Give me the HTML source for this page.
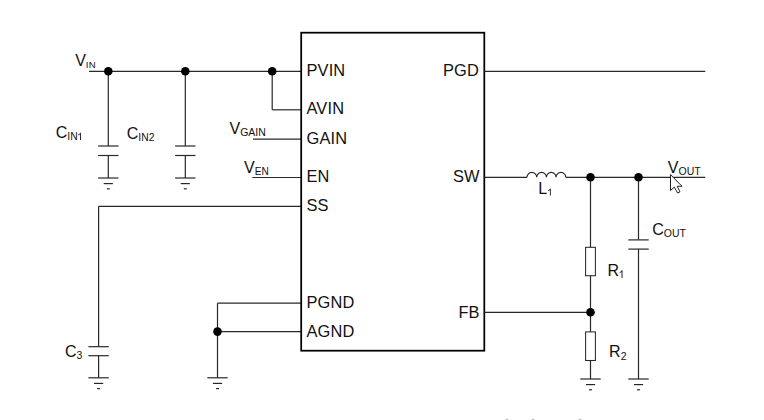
<!DOCTYPE html>
<html><head><meta charset="utf-8">
<style>
html,body{margin:0;padding:0;background:#fff;}
body{width:764px;height:420px;overflow:hidden;}
svg{display:block;}
text{font-family:"Liberation Sans",sans-serif;fill:#111;}
</style></head><body>
<svg width="764" height="420" viewBox="0 0 764 420">
<rect width="764" height="420" fill="#fff"/>
<line x1="89" y1="71.3" x2="301.5" y2="71.3" stroke="#282828" stroke-width="1.15"/>
<line x1="108.3" y1="71.3" x2="108.3" y2="146" stroke="#282828" stroke-width="1.2"/>
<line x1="98.1" y1="146" x2="118.5" y2="146" stroke="#282828" stroke-width="1.2"/>
<line x1="98.1" y1="155.5" x2="118.5" y2="155.5" stroke="#282828" stroke-width="1.2"/>
<line x1="108.3" y1="155.5" x2="108.3" y2="178" stroke="#282828" stroke-width="1.2"/>
<line x1="98.1" y1="178" x2="118.5" y2="178" stroke="#282828" stroke-width="1.2"/>
<line x1="103.7" y1="183.6" x2="112.9" y2="183.6" stroke="#282828" stroke-width="1.2"/>
<line x1="106.8" y1="188.8" x2="109.8" y2="188.8" stroke="#282828" stroke-width="1.2"/>
<line x1="185.3" y1="71.3" x2="185.3" y2="146" stroke="#282828" stroke-width="1.2"/>
<line x1="175.1" y1="146" x2="195.5" y2="146" stroke="#282828" stroke-width="1.2"/>
<line x1="175.1" y1="155.5" x2="195.5" y2="155.5" stroke="#282828" stroke-width="1.2"/>
<line x1="185.3" y1="155.5" x2="185.3" y2="178" stroke="#282828" stroke-width="1.2"/>
<line x1="175.1" y1="178" x2="195.5" y2="178" stroke="#282828" stroke-width="1.2"/>
<line x1="180.7" y1="183.6" x2="189.9" y2="183.6" stroke="#282828" stroke-width="1.2"/>
<line x1="183.8" y1="188.8" x2="186.8" y2="188.8" stroke="#282828" stroke-width="1.2"/>
<line x1="272.2" y1="71.3" x2="272.2" y2="109.8" stroke="#282828" stroke-width="1.2"/>
<line x1="272.2" y1="109.8" x2="301.5" y2="109.8" stroke="#282828" stroke-width="1.2"/>
<line x1="253" y1="139.2" x2="301.5" y2="139.2" stroke="#282828" stroke-width="1.2"/>
<line x1="252.3" y1="177.5" x2="301.5" y2="177.5" stroke="#282828" stroke-width="1.2"/>
<line x1="98.6" y1="206.3" x2="301.5" y2="206.3" stroke="#282828" stroke-width="1.2"/>
<line x1="98.6" y1="206.3" x2="98.6" y2="346.3" stroke="#282828" stroke-width="1.2"/>
<line x1="88.4" y1="346.7" x2="108.8" y2="346.7" stroke="#282828" stroke-width="1.2"/>
<line x1="88.4" y1="355.7" x2="108.8" y2="355.7" stroke="#282828" stroke-width="1.2"/>
<line x1="98.6" y1="355.6" x2="98.6" y2="377.8" stroke="#282828" stroke-width="1.2"/>
<line x1="88.4" y1="377.8" x2="108.8" y2="377.8" stroke="#282828" stroke-width="1.2"/>
<line x1="94" y1="383.4" x2="103.2" y2="383.4" stroke="#282828" stroke-width="1.2"/>
<line x1="97.1" y1="388.6" x2="100.1" y2="388.6" stroke="#282828" stroke-width="1.2"/>
<line x1="217.5" y1="303.2" x2="301.5" y2="303.2" stroke="#282828" stroke-width="1.2"/>
<line x1="217.5" y1="331.6" x2="301.5" y2="331.6" stroke="#282828" stroke-width="1.2"/>
<line x1="217.5" y1="303.2" x2="217.5" y2="377.8" stroke="#282828" stroke-width="1.2"/>
<line x1="207.3" y1="377.8" x2="227.7" y2="377.8" stroke="#282828" stroke-width="1.2"/>
<line x1="212.9" y1="383.4" x2="222.1" y2="383.4" stroke="#282828" stroke-width="1.2"/>
<line x1="216" y1="388.6" x2="219" y2="388.6" stroke="#282828" stroke-width="1.2"/>
<rect x="301.2" y="32.7" width="183.1" height="318" fill="none" stroke="#000" stroke-width="1.75"/>
<line x1="484.5" y1="71.3" x2="705.3" y2="71.3" stroke="#282828" stroke-width="1.2"/>
<line x1="484.5" y1="177.3" x2="527" y2="177.3" stroke="#282828" stroke-width="1.2"/>
<path d="M527.0 177.3 a4.85 4.85 0 0 1 9.7 0 a4.85 4.85 0 0 1 9.7 0 a4.85 4.85 0 0 1 9.7 0 a4.85 4.85 0 0 1 9.7 0" fill="none" stroke="#282828" stroke-width="1.2"/>
<line x1="565.8" y1="177.3" x2="705.3" y2="177.3" stroke="#282828" stroke-width="1.2"/>
<line x1="590.5" y1="177.3" x2="590.5" y2="247.2" stroke="#282828" stroke-width="1.2"/>
<rect x="585.6" y="247.3" width="9.8" height="28.4" fill="none" stroke="#282828" stroke-width="1.05"/>
<line x1="590.5" y1="275.7" x2="590.5" y2="331.8" stroke="#282828" stroke-width="1.2"/>
<rect x="585.6" y="331.9" width="9.8" height="28.6" fill="none" stroke="#282828" stroke-width="1.05"/>
<line x1="590.5" y1="360.5" x2="590.5" y2="379" stroke="#282828" stroke-width="1.2"/>
<line x1="580.3" y1="379" x2="600.7" y2="379" stroke="#282828" stroke-width="1.2"/>
<line x1="585.9" y1="384.6" x2="595.1" y2="384.6" stroke="#282828" stroke-width="1.2"/>
<line x1="589" y1="389.8" x2="592" y2="389.8" stroke="#282828" stroke-width="1.2"/>
<line x1="484.5" y1="312.3" x2="590.5" y2="312.3" stroke="#282828" stroke-width="1.2"/>
<line x1="638.5" y1="177.3" x2="638.5" y2="239.6" stroke="#282828" stroke-width="1.2"/>
<line x1="628.3" y1="239.9" x2="648.7" y2="239.9" stroke="#282828" stroke-width="1.2"/>
<line x1="628.3" y1="249.1" x2="648.7" y2="249.1" stroke="#282828" stroke-width="1.2"/>
<line x1="638.5" y1="249" x2="638.5" y2="379" stroke="#282828" stroke-width="1.2"/>
<line x1="628.3" y1="379" x2="648.7" y2="379" stroke="#282828" stroke-width="1.2"/>
<line x1="633.9" y1="384.6" x2="643.1" y2="384.6" stroke="#282828" stroke-width="1.2"/>
<line x1="637" y1="389.8" x2="640" y2="389.8" stroke="#282828" stroke-width="1.2"/>
<circle cx="108.3" cy="71.3" r="4.3" fill="#000"/>
<circle cx="185.3" cy="71.3" r="4.3" fill="#000"/>
<circle cx="272.2" cy="71.3" r="4.3" fill="#000"/>
<circle cx="217.5" cy="331.6" r="4.3" fill="#000"/>
<circle cx="590.5" cy="177.3" r="4.3" fill="#000"/>
<circle cx="638.5" cy="177.3" r="4.3" fill="#000"/>
<circle cx="590.5" cy="312.3" r="4.3" fill="#000"/>
<text x="306.5" y="75.6" font-size="16.4" text-anchor="start" letter-spacing="0.15">PVIN</text>
<text x="306.5" y="114.2" font-size="16.4" text-anchor="start" letter-spacing="0.15">AVIN</text>
<text x="306.5" y="143.7" font-size="16.4" text-anchor="start" letter-spacing="0.15">GAIN</text>
<text x="306.5" y="181.8" font-size="16.4" text-anchor="start" letter-spacing="0.15">EN</text>
<text x="306.5" y="210.6" font-size="16.4" text-anchor="start" letter-spacing="0.15">SS</text>
<text x="306.5" y="307.9" font-size="16.4" text-anchor="start" letter-spacing="0.15">PGND</text>
<text x="306.5" y="337.1" font-size="16.4" text-anchor="start" letter-spacing="0.15">AGND</text>
<text x="479.0" y="75.6" font-size="16.4" text-anchor="end" letter-spacing="0.15">PGD</text>
<text x="479.6" y="182" font-size="16.4" text-anchor="end" letter-spacing="0.15">SW</text>
<text x="479.7" y="318.4" font-size="16.4" text-anchor="end" letter-spacing="0.15">FB</text>
<text x="75.2" y="66" font-size="16">V<tspan font-size="9.6" dy="1.8" letter-spacing="0.35">IN</tspan></text>
<text x="55.8" y="138.2" font-size="16">C<tspan font-size="10.3" dy="1.9" letter-spacing="0.1">IN</tspan></text>
<path d="M763 0H583V1147Q518 1085 412.5 1023Q307 961 223 930V1104Q374 1175 487 1276Q600 1377 647 1472H763Z" fill="#111" transform="translate(77.05 140.10) scale(0.005029 -0.005029)"/>
<text x="126.7" y="138.8" font-size="16">C<tspan font-size="10.3" dy="1.8" letter-spacing="0.1">IN2</tspan></text>
<text x="229.5" y="134.2" font-size="16">V<tspan font-size="10.5" dy="1.9" letter-spacing="0">GAIN</tspan></text>
<text x="244.1" y="173.0" font-size="16">V<tspan font-size="10.1" dy="1.8" letter-spacing="0">EN</tspan></text>
<text x="538.2" y="193.7" font-size="16">L</text>
<path d="M763 0H583V1147Q518 1085 412.5 1023Q307 961 223 930V1104Q374 1175 487 1276Q600 1377 647 1472H763Z" fill="#111" transform="translate(547.10 195.60) scale(0.004785 -0.004785)"/>
<text x="667.8" y="172.7" font-size="16">V<tspan font-size="10.5" dy="2.2" letter-spacing="0">OUT</tspan></text>
<text x="652.3" y="235.3" font-size="16">C<tspan font-size="10.5" dy="1.9" letter-spacing="0">OUT</tspan></text>
<text x="607.5" y="275.7" font-size="16">R</text>
<path d="M763 0H583V1147Q518 1085 412.5 1023Q307 961 223 930V1104Q374 1175 487 1276Q600 1377 647 1472H763Z" fill="#111" transform="translate(618.55 277.90) scale(0.005176 -0.005176)"/>
<text x="609.1" y="356.9" font-size="16">R<tspan font-size="10.5" dy="2.9" letter-spacing="0">2</tspan></text>
<text x="65" y="357.1" font-size="16">C<tspan font-size="10.5" dy="2.0" letter-spacing="0">3</tspan></text>
<path d="M670.5 174.6 L670.5 190.6 L674.3 187.1 L677.6 193 L680 191.8 L677.2 186.3 L682 186.3 Z" fill="#fff" stroke="#222" stroke-width="1" stroke-linejoin="miter"/>
<ellipse cx="507" cy="420" rx="1.6" ry="1.2" fill="#bbb"/>
<ellipse cx="533" cy="420" rx="1.6" ry="1.2" fill="#bbb"/>
<ellipse cx="580" cy="420" rx="1.6" ry="1.2" fill="#bbb"/>
</svg>
</body></html>
